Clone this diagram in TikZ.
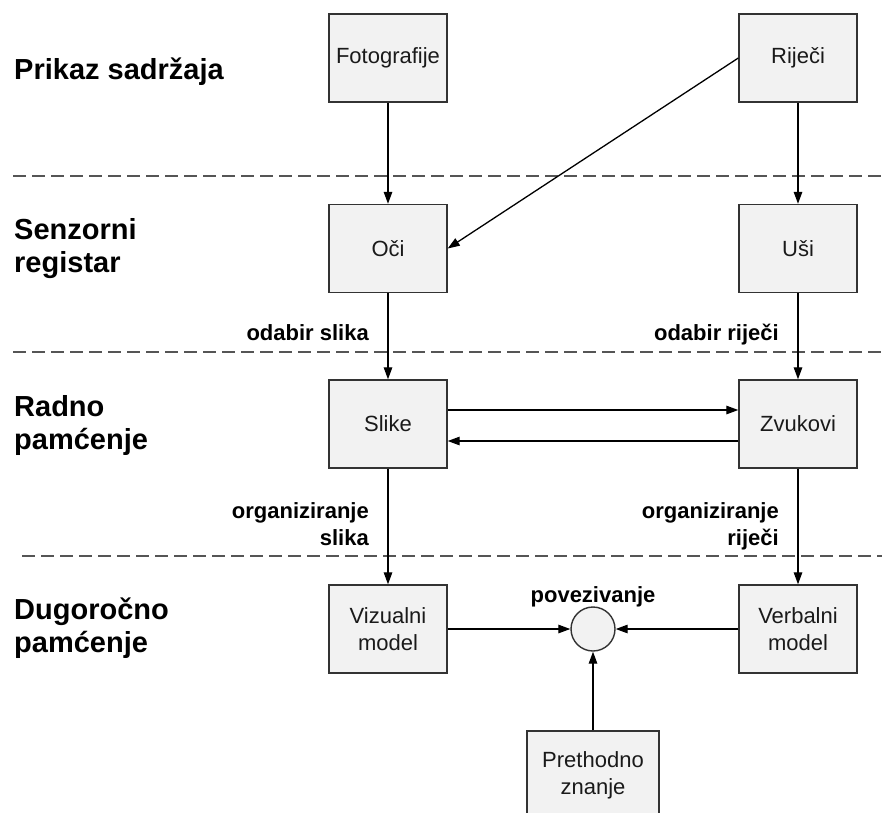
\documentclass[tikz,border=0pt]{standalone}
\usepackage{fontspec}
\setmainfont{Liberation Sans}
\usetikzlibrary{arrows.meta,calc}
\definecolor{boxfill}{HTML}{F2F2F2}
\definecolor{boxline}{HTML}{333333}
\definecolor{dashc}{HTML}{555555}
\definecolor{textc}{HTML}{1A1A1A}
\begin{document}
\begin{tikzpicture}[x=1pt,y=-1pt,
  box/.style={draw=boxline, fill=boxfill, line width=1.4pt, minimum width=118pt, minimum height=88pt, inner sep=0pt, align=center, font=\fontsize{22}{27}\selectfont, text=textc},
  lane/.style={font=\bfseries\fontsize{29}{33}\selectfont, align=left, inner sep=0pt},
  elab/.style={font=\bfseries\fontsize{22}{27}\selectfont, align=right, inner sep=0pt},
  arr/.style={line width=1.3pt, -{Triangle[length=12pt,width=8.5pt]}},
  sepline/.style={dashc, line width=1.6pt, dash pattern=on 13pt off 6pt}]
\useasboundingbox (0,0) rectangle (885,812);

% separators
\draw[sepline] (13,176) -- (882,176);
\draw[sepline] (13,352) -- (882,352);
\draw[sepline] (22,556) -- (882,556);

% lane labels
\node[lane, anchor=base west] (l1) at (14,79) {Prikaz sadržaja};
\node[lane, anchor=north west] (l2) at (14,218) {Senzorni\\registar};
\node[lane, anchor=north west] (l3) at (14,395) {Radno\\pamćenje};
\node[lane, anchor=north west] (l4) at (14,598) {Dugoročno\\pamćenje};

% boxes
\node[box] (foto) at (388,58) {Fotografije};
\node[box] (rijeci) at (798,58) {Riječi};
\node[box] (oci) at (388,248.5) {Oči};
\node[box] (usi) at (798,248.5) {Uši};
\node[box] (slike) at (388,424) {Slike};
\node[box] (zvuk) at (798,424) {Zvukovi};
\node[box] (viz) at (388,629) {Vizualni\\model};
\node[box] (verb) at (798,629) {Verbalni\\model};
\node[box, minimum width=132pt] (pret) at (593,775) {Prethodno\\znanje};
\node[draw=boxline, fill=boxfill, line width=1.4pt, circle, minimum size=44pt, inner sep=0pt] (circ) at (593,629) {};

% edge labels
\node[elab, anchor=base east] (e1) at (369,340) {odabir slika};
\node[elab, anchor=base east] (e2) at (779,340) {odabir riječi};
\node[elab, anchor=north east] (e3) at (369,502) {organiziranje\\slika};
\node[elab, anchor=north east] (e4) at (779,502) {organiziranje\\riječi};
\node[elab, anchor=base] (e5) at (593,602) {povezivanje};

% connectors
\draw[arr] (foto) -- (oci);
\draw[arr] (rijeci.west) -- (oci.east);
\draw[arr] (rijeci) -- (usi);
\draw[arr] (oci) -- (slike);
\draw[arr] (usi) -- (zvuk);
\draw[arr] ($(slike.east)+(0,-14)$) -- ($(zvuk.west)+(0,-14)$);
\draw[arr] ($(zvuk.west)+(0,17)$) -- ($(slike.east)+(0,17)$);
\draw[arr] (slike) -- (viz);
\draw[arr] (zvuk) -- (verb);
\draw[arr] (viz) -- (circ);
\draw[arr] (verb) -- (circ);
\draw[arr] (pret) -- (circ);
\end{tikzpicture}
\end{document}
